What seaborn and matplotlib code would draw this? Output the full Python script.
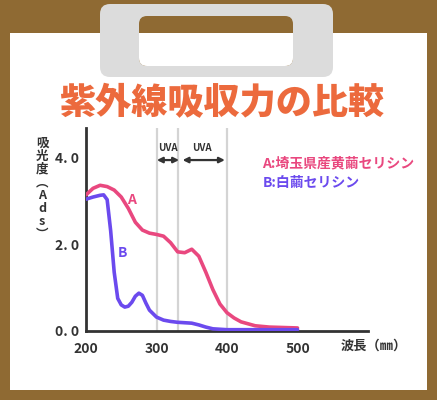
import numpy as np
import pandas as pd
import seaborn as sns
import matplotlib.pyplot as plt
from matplotlib.patches import FancyBboxPatch, Rectangle

# ==========================================
# 1. DATA
# ==========================================
wl_a = [200, 210, 220, 230, 240, 250, 260, 270, 280, 290, 300, 310, 320, 330,
        340, 350, 360, 370, 380, 390, 400, 410, 420, 440, 460, 480, 500]
abs_a = [3.13, 3.28, 3.35, 3.32, 3.24, 3.08, 2.82, 2.50, 2.32, 2.25, 2.22, 2.18,
         2.03, 1.82, 1.80, 1.88, 1.72, 1.35, 0.95, 0.62, 0.42, 0.30, 0.21, 0.12,
         0.09, 0.08, 0.07]

wl_b = [200, 210, 220, 225, 230, 235, 240, 245, 250, 255, 260, 265, 270, 275,
        280, 285, 290, 300, 310, 320, 330, 340, 350, 360, 370, 380, 390, 400,
        450, 500]
abs_b = [3.03, 3.08, 3.12, 3.13, 3.02, 2.30, 1.35, 0.75, 0.60, 0.55, 0.57, 0.66,
         0.80, 0.87, 0.82, 0.64, 0.48, 0.32, 0.25, 0.22, 0.20, 0.19, 0.18, 0.14,
         0.09, 0.05, 0.04, 0.03, 0.03, 0.03]

uva_lines = [300, 330, 400]
x_ticks = [200, 300, 400, 500]
y_ticks = [0, 2, 4]
y_ticklabels = ['0. 0', '2. 0', '4. 0']

title = '紫外線吸収力の比較'
legend_a = 'A:埼玉県産黄繭セリシン'
legend_b = 'B:白繭セリシン'

PINK = '#E9487F'
PURPLE = '#6B4AEE'
ORANGE = '#EC6A3D'
BROWN = '#8F6A33'
DARK = '#333333'

df_a = pd.DataFrame({'wl': wl_a, 'abs': abs_a})
df_b = pd.DataFrame({'wl': wl_b, 'abs': abs_b})

# ==========================================
# 2. FIGURE / BACKGROUND (clipboard look)
# ==========================================
sns.set_style('white')
plt.rcParams['font.family'] = ['Noto Sans CJK JP', 'DejaVu Sans']

fig = plt.figure(figsize=(4.37, 4.0), dpi=100)
fig.patch.set_facecolor(BROWN)
H = 400

# paper (kept below the axes)
fig.patches.append(Rectangle((10, H - 390), 417, 357, transform=None,
                             facecolor='white', edgecolor='none', zorder=-4))
# clip handle
fig.patches.append(FancyBboxPatch((110, H - 77 + 10), 213, 73 - 20, transform=None,
                                  boxstyle='round,pad=10', facecolor='#DCDCDC',
                                  edgecolor='none', zorder=-3))
hole = FancyBboxPatch((147, H - 66 + 8), 138, 50 - 16, transform=None,
                      boxstyle='round,pad=8', facecolor=BROWN,
                      edgecolor='none', zorder=-2)
fig.patches.append(hole)
inner_white = Rectangle((130, H - 70), 180, 37, transform=None,
                        facecolor='white', edgecolor='none', zorder=-1)
fig.patches.append(inner_white)
inner_white.set_clip_path(hole)

fig.text(222 / 437, 1 - 103 / H, title, color=ORANGE, fontsize=26,
         fontweight='heavy', ha='center', va='center')

# ==========================================
# 3. CHART
# ==========================================
ax = fig.add_axes([86 / 437, 69 / H, 282 / 437, 203 / H])
ax.patch.set_alpha(0)

for x in uva_lines:
    ax.axvline(x, color='#D4D4D4', lw=1.6, zorder=1)

sns.lineplot(data=df_a, x='wl', y='abs', ax=ax, color=PINK, lw=2.6,
             estimator=None, sort=False, zorder=3)
sns.lineplot(data=df_b, x='wl', y='abs', ax=ax, color=PURPLE, lw=2.6,
             estimator=None, sort=False, zorder=4)
for l in ax.lines:
    l.set_solid_capstyle('round')
    l.set_solid_joinstyle('round')

ax.set_xlim(200, 600)
ax.set_ylim(0, 4.667)
ax.set_xticks(x_ticks)
ax.set_xticklabels([str(v) for v in x_ticks])
ax.set_yticks(y_ticks)
ax.set_yticklabels(y_ticklabels)
ax.tick_params(length=0, labelsize=10, colors=DARK)
ax.tick_params(axis='x', pad=8)
ax.tick_params(axis='y', pad=5)
for t in ax.get_xticklabels() + ax.get_yticklabels():
    t.set_fontweight('bold')
ax.set_xlabel('')
ax.set_ylabel('')
sns.despine(ax=ax)
for s in ['left', 'bottom']:
    ax.spines[s].set_color(DARK)
    ax.spines[s].set_linewidth(2)

# UVA arrows
arrow_kw = dict(arrowstyle='<|-|>', color=DARK, lw=1.6, mutation_scale=8,
                shrinkA=0, shrinkB=0)
ax.annotate('', xy=(300.5, 3.93), xytext=(332, 3.93), arrowprops=arrow_kw)
ax.annotate('', xy=(337, 3.93), xytext=(397, 3.93), arrowprops=arrow_kw)
ax.text(316, 4.21, 'UVA', fontsize=7, fontweight='bold', color=DARK,
        ha='center', va='center', fontstretch='condensed')
ax.text(365, 4.21, 'UVA', fontsize=7, fontweight='bold', color=DARK,
        ha='center', va='center', fontstretch='condensed')

# curve labels
ax.text(264, 3.01, 'A', color=PINK, fontsize=10, fontweight='bold',
        ha='center', va='center', style='italic')
ax.text(251, 1.79, 'B', color=PURPLE, fontsize=10, fontweight='bold',
        ha='center', va='center', style='italic')

# legend texts
ax.text(450, 3.86, legend_a, color=PINK, fontsize=10, fontweight='bold',
        ha='left', va='center')
ax.text(450, 3.40, legend_b, color=PURPLE, fontsize=10, fontweight='bold',
        ha='left', va='center')

# axis labels
fig.text(42 / 437, 1 - 189 / H, '吸\n光\n度\n︵\nA\nd\ns\n︶', fontsize=9,
         fontweight='bold', color=DARK, ha='center', va='center',
         linespacing=1.0)
fig.text(374 / 437, 1 - 346 / H, '波長（㎜）', fontsize=9.5, fontweight='bold',
         color=DARK, ha='center', va='center')

fig.savefig('out.png', dpi=100, facecolor=fig.get_facecolor())
